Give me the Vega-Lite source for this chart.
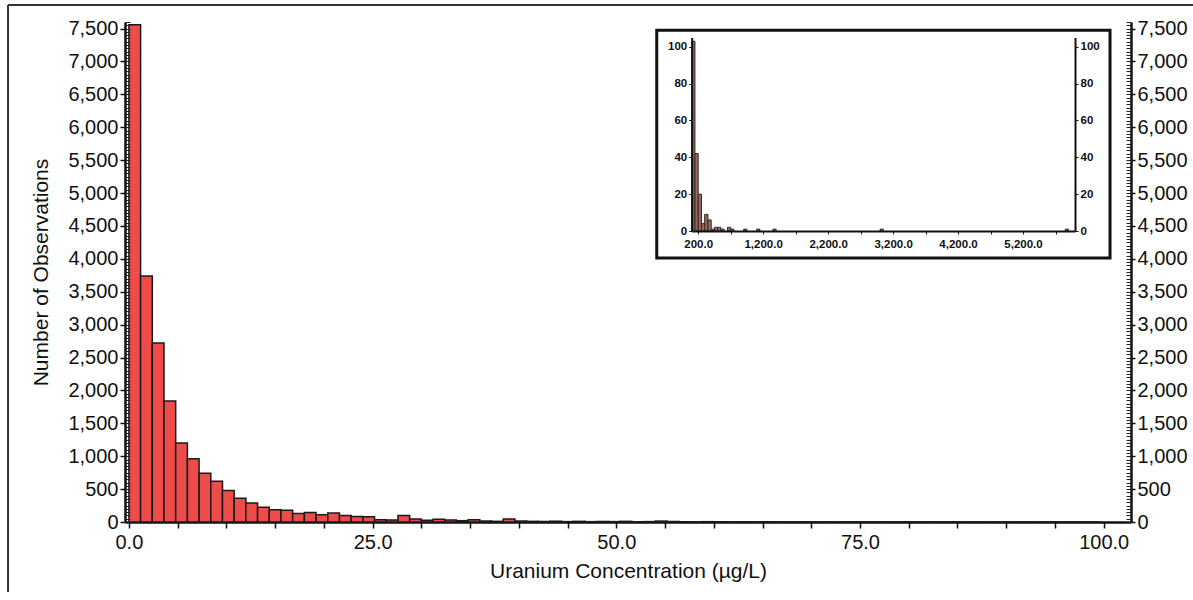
{
  "$schema": "https://vega.github.io/schema/vega-lite/v6.json",
  "width": 1006,
  "height": 500,
  "autosize": {"type": "none"},
  "padding": {"left": 125, "top": 22, "right": 62, "bottom": 78},
  "background": "white",
  "config": {
    "view": {"stroke": null},
    "axis": {
      "grid": false,
      "domainColor": "#111111",
      "tickColor": "#111111",
      "labelColor": "#111111",
      "titleColor": "#111111",
      "labelFont": "Liberation Sans",
      "titleFont": "Liberation Sans",
      "titleFontWeight": "normal",
      "labelOverlap": false,
      "labelFlush": false,
      "labelBound": false,
      "zindex": 1
    }
  },
  "datasets": {
    "main": [
      {"start": 0, "end": 1.2, "count": 7560},
      {"start": 1.2, "end": 2.4, "count": 3740},
      {"start": 2.4, "end": 3.6, "count": 2720},
      {"start": 3.6, "end": 4.8, "count": 1840},
      {"start": 4.8, "end": 6.0, "count": 1200},
      {"start": 6.0, "end": 7.2, "count": 960},
      {"start": 7.2, "end": 8.4, "count": 740},
      {"start": 8.4, "end": 9.6, "count": 620},
      {"start": 9.6, "end": 10.8, "count": 480},
      {"start": 10.8, "end": 12.0, "count": 360},
      {"start": 12.0, "end": 13.2, "count": 290},
      {"start": 13.2, "end": 14.4, "count": 225},
      {"start": 14.4, "end": 15.6, "count": 185},
      {"start": 15.6, "end": 16.8, "count": 180},
      {"start": 16.8, "end": 18.0, "count": 130},
      {"start": 18.0, "end": 19.2, "count": 145},
      {"start": 19.2, "end": 20.4, "count": 110},
      {"start": 20.4, "end": 21.6, "count": 135},
      {"start": 21.6, "end": 22.8, "count": 100},
      {"start": 22.8, "end": 24.0, "count": 85},
      {"start": 24.0, "end": 25.2, "count": 80},
      {"start": 25.2, "end": 26.4, "count": 35},
      {"start": 26.4, "end": 27.6, "count": 30},
      {"start": 27.6, "end": 28.8, "count": 100},
      {"start": 28.8, "end": 30.0, "count": 45},
      {"start": 30.0, "end": 31.2, "count": 25},
      {"start": 31.2, "end": 32.4, "count": 40},
      {"start": 32.4, "end": 33.6, "count": 30},
      {"start": 33.6, "end": 34.8, "count": 20},
      {"start": 34.8, "end": 36.0, "count": 35},
      {"start": 36.0, "end": 37.2, "count": 15},
      {"start": 37.2, "end": 38.4, "count": 10},
      {"start": 38.4, "end": 39.6, "count": 45},
      {"start": 39.6, "end": 40.8, "count": 15},
      {"start": 40.8, "end": 42.0, "count": 10},
      {"start": 42.0, "end": 43.2, "count": 8},
      {"start": 43.2, "end": 44.4, "count": 12},
      {"start": 44.4, "end": 45.6, "count": 6},
      {"start": 45.6, "end": 46.8, "count": 10},
      {"start": 46.8, "end": 48.0, "count": 5},
      {"start": 48.0, "end": 49.2, "count": 8},
      {"start": 49.2, "end": 50.4, "count": 6},
      {"start": 50.4, "end": 51.6, "count": 10},
      {"start": 51.6, "end": 52.8, "count": 4},
      {"start": 52.8, "end": 54.0, "count": 6},
      {"start": 54.0, "end": 55.2, "count": 14},
      {"start": 55.2, "end": 56.4, "count": 8},
      {"start": 56.4, "end": 57.6, "count": 4},
      {"start": 57.6, "end": 58.8, "count": 3},
      {"start": 58.8, "end": 60.0, "count": 5},
      {"start": 60.0, "end": 61.2, "count": 3},
      {"start": 61.2, "end": 62.4, "count": 2},
      {"start": 62.4, "end": 63.6, "count": 4},
      {"start": 63.6, "end": 64.8, "count": 2},
      {"start": 64.8, "end": 66.0, "count": 3},
      {"start": 66.0, "end": 67.2, "count": 2},
      {"start": 67.2, "end": 68.4, "count": 1},
      {"start": 68.4, "end": 69.6, "count": 2},
      {"start": 69.6, "end": 70.8, "count": 1},
      {"start": 70.8, "end": 72.0, "count": 2},
      {"start": 72.0, "end": 73.2, "count": 1},
      {"start": 73.2, "end": 74.4, "count": 2},
      {"start": 74.4, "end": 75.6, "count": 1},
      {"start": 75.6, "end": 76.8, "count": 1},
      {"start": 76.8, "end": 78.0, "count": 2},
      {"start": 78.0, "end": 79.2, "count": 1},
      {"start": 79.2, "end": 80.4, "count": 1},
      {"start": 80.4, "end": 81.6, "count": 1},
      {"start": 81.6, "end": 82.8, "count": 2},
      {"start": 82.8, "end": 84.0, "count": 1},
      {"start": 84.0, "end": 85.2, "count": 1},
      {"start": 85.2, "end": 86.4, "count": 1},
      {"start": 86.4, "end": 87.6, "count": 1},
      {"start": 87.6, "end": 88.8, "count": 1},
      {"start": 88.8, "end": 90.0, "count": 1},
      {"start": 90.0, "end": 91.2, "count": 1},
      {"start": 91.2, "end": 92.4, "count": 1},
      {"start": 92.4, "end": 93.6, "count": 1},
      {"start": 93.6, "end": 94.8, "count": 1},
      {"start": 94.8, "end": 96.0, "count": 1},
      {"start": 96.0, "end": 97.2, "count": 1},
      {"start": 97.2, "end": 98.4, "count": 1},
      {"start": 98.4, "end": 99.6, "count": 1}
    ],
    "inset": [
      {"lo": 100, "hi": 150, "n": 103},
      {"lo": 150, "hi": 200, "n": 42},
      {"lo": 200, "hi": 250, "n": 20},
      {"lo": 250, "hi": 300, "n": 4},
      {"lo": 300, "hi": 350, "n": 9},
      {"lo": 350, "hi": 400, "n": 6},
      {"lo": 400, "hi": 450, "n": 1},
      {"lo": 450, "hi": 500, "n": 2},
      {"lo": 500, "hi": 550, "n": 2},
      {"lo": 550, "hi": 600, "n": 1},
      {"lo": 650, "hi": 700, "n": 2},
      {"lo": 700, "hi": 750, "n": 1},
      {"lo": 900, "hi": 950, "n": 1},
      {"lo": 1100, "hi": 1150, "n": 1},
      {"lo": 1350, "hi": 1400, "n": 1},
      {"lo": 3000, "hi": 3050, "n": 1},
      {"lo": 5850, "hi": 5900, "n": 1}
    ]
  },
  "layer": [
    {
      "data": {"values": [{}]},
      "layer": [
        {
          "mark": {"type": "rule", "stroke": "#333333", "strokeWidth": 2},
          "encoding": {
            "x": {"datum": -12.4, "type": "quantitative", "scale": {"domain": [-0.4, 102.8], "nice": false, "zero": false}, "axis": null},
            "y": {"datum": -1064, "type": "quantitative", "scale": {"domain": [0, 7600], "nice": false, "zero": true}, "axis": null},
            "y2": {"datum": 7858}
          }
        },
        {
          "mark": {"type": "rule", "stroke": "#333333", "strokeWidth": 2},
          "encoding": {
            "x": {"datum": -12.4, "type": "quantitative", "scale": {"domain": [-0.4, 102.8], "nice": false, "zero": false}, "axis": null},
            "x2": {"datum": 110},
            "y": {"datum": 7858, "type": "quantitative", "scale": {"domain": [0, 7600], "nice": false, "zero": true}, "axis": null}
          }
        }
      ]
    },
    {
      "data": {"values": [{}]},
      "mark": {"type": "rect", "fill": "white", "stroke": "#111111", "strokeWidth": 3},
      "encoding": {
        "x": {"datum": -438, "type": "quantitative", "scale": {"domain": [100, 6000], "range": [566.7, 950], "nice": false, "zero": false}, "axis": null},
        "x2": {"datum": 6539},
        "y": {"datum": 109, "type": "quantitative", "scale": {"domain": [0, 105], "range": [209, 15.5], "nice": false, "zero": true}, "axis": null},
        "y2": {"datum": -14.6}
      }
    },
    {
      "data": {"name": "main"},
      "mark": {"type": "rect", "fill": "#ee4b4b", "stroke": "#1a1a1a", "strokeWidth": 1.5},
      "encoding": {
        "x": {
          "field": "start", "type": "quantitative",
          "scale": {"domain": [-0.4, 102.8], "nice": false, "zero": false},
          "axis": {
            "orient": "bottom",
            "values": [0, 5, 10, 15, 20, 25, 30, 35, 40, 45, 50, 55, 60, 65, 70, 75, 80, 85, 90, 95, 100],
            "labelExpr": "datum.value % 25 === 0 ? format(datum.value, '.1f') : ''",
            "labelFontSize": 20,
            "labelPadding": 4,
            "tickSize": 6,
            "tickWidth": 1.5,
            "domainWidth": 2.5,
            "title": "Uranium Concentration (µg/L)",
            "titleFontSize": 21,
            "titlePadding": 8
          }
        },
        "x2": {"field": "end"},
        "y": {
          "field": "count", "type": "quantitative",
          "scale": {"domain": [0, 7600], "nice": false, "zero": true},
          "axis": {
            "orient": "left",
            "values": [0, 500, 1000, 1500, 2000, 2500, 3000, 3500, 4000, 4500, 5000, 5500, 6000, 6500, 7000, 7500],
            "format": ",.0f",
            "labelFontSize": 20,
            "labelPadding": 2,
            "tickSize": 5,
            "tickWidth": 1.5,
            "domainWidth": 2.5,
            "title": "Number of Observations",
            "titleFontSize": 21,
            "titlePadding": 16
          }
        },
        "y2": {"datum": 0}
      }
    },
    {
      "data": {"name": "main"},
      "mark": {"type": "rect", "opacity": 0},
      "encoding": {
        "x": {"field": "start", "type": "quantitative", "scale": {"domain": [-0.4, 102.8], "nice": false, "zero": false}, "axis": null},
        "x2": {"field": "end"},
        "y": {
          "field": "count", "type": "quantitative",
          "scale": {"domain": [0, 7600], "nice": false, "zero": true},
          "axis": {
            "orient": "right",
            "values": [0, 500, 1000, 1500, 2000, 2500, 3000, 3500, 4000, 4500, 5000, 5500, 6000, 6500, 7000, 7500],
            "format": ",.0f",
            "labelFontSize": 20,
            "labelPadding": 2,
            "tickSize": 4,
            "tickWidth": 1.5,
            "domainWidth": 2.5,
            "title": null
          }
        },
        "y2": {"datum": 0}
      }
    },
    {
      "data": {"name": "main"},
      "mark": {"type": "rect", "opacity": 0},
      "encoding": {
        "x": {"field": "start", "type": "quantitative", "scale": {"domain": [-0.4, 102.8], "nice": false, "zero": false}, "axis": null},
        "x2": {"field": "end"},
        "y": {
          "field": "count", "type": "quantitative",
          "scale": {"domain": [0, 7600], "nice": false, "zero": true},
          "axis": {"orient": "left", "tickCount": 152, "labels": false, "domain": false, "tickSize": 5, "tickWidth": 1, "tickColor": "#222222", "offset": -5, "zindex": 2, "title": null}
        },
        "y2": {"datum": 0}
      }
    },
    {
      "data": {"name": "main"},
      "mark": {"type": "rect", "opacity": 0},
      "encoding": {
        "x": {"field": "start", "type": "quantitative", "scale": {"domain": [-0.4, 102.8], "nice": false, "zero": false}, "axis": null},
        "x2": {"field": "end"},
        "y": {
          "field": "count", "type": "quantitative",
          "scale": {"domain": [0, 7600], "nice": false, "zero": true},
          "axis": {"orient": "right", "tickCount": 152, "labels": false, "domain": false, "tickSize": 5, "tickWidth": 1, "tickColor": "#222222", "offset": -5, "zindex": 2, "title": null}
        },
        "y2": {"datum": 0}
      }
    },
    {
      "data": {"name": "inset"},
      "mark": {"type": "rect", "fill": "#a3665b", "stroke": "#2a2a2a", "strokeWidth": 1},
      "encoding": {
        "x": {
          "field": "lo", "type": "quantitative",
          "scale": {"domain": [100, 6000], "range": [566.7, 950], "nice": false, "zero": false},
          "axis": {
            "orient": "bottom",
            "offset": -291,
            "zindex": 2,
            "values": [200, 700, 1200, 1700, 2200, 2700, 3200, 3700, 4200, 4700, 5200, 5700],
            "labelExpr": "(datum.value - 200) % 1000 === 0 ? format(datum.value, ',.1f') : ''",
            "labelFontSize": 11.5,
            "labelFontWeight": "bold",
            "labelPadding": 4,
            "tickSize": 3,
            "tickWidth": 1,
            "domainWidth": 2,
            "title": null
          }
        },
        "x2": {"field": "hi"},
        "y": {
          "field": "n", "type": "quantitative",
          "scale": {"domain": [0, 105], "range": [209, 15.5], "nice": false, "zero": true},
          "axis": {
            "orient": "left",
            "offset": -566.7,
            "zindex": 2,
            "values": [0, 20, 40, 60, 80, 100],
            "labelFontSize": 11.5,
            "labelFontWeight": "bold",
            "labelPadding": 2,
            "tickSize": 3,
            "tickWidth": 1,
            "domainWidth": 2,
            "title": null
          }
        },
        "y2": {"datum": 0}
      }
    },
    {
      "data": {"name": "inset"},
      "mark": {"type": "rect", "opacity": 0},
      "encoding": {
        "x": {"field": "lo", "type": "quantitative", "scale": {"domain": [100, 6000], "range": [566.7, 950], "nice": false, "zero": false}, "axis": null},
        "x2": {"field": "hi"},
        "y": {
          "field": "n", "type": "quantitative",
          "scale": {"domain": [0, 105], "range": [209, 15.5], "nice": false, "zero": true},
          "axis": {
            "orient": "right",
            "offset": -56,
            "zindex": 2,
            "values": [0, 20, 40, 60, 80, 100],
            "labelFontSize": 11.5,
            "labelFontWeight": "bold",
            "labelPadding": 2,
            "tickSize": 3,
            "tickWidth": 1,
            "domainWidth": 2,
            "title": null
          }
        },
        "y2": {"datum": 0}
      }
    }
  ],
  "resolve": {
    "scale": {"x": "independent", "y": "independent"},
    "axis": {"x": "independent", "y": "independent"}
  }
}
